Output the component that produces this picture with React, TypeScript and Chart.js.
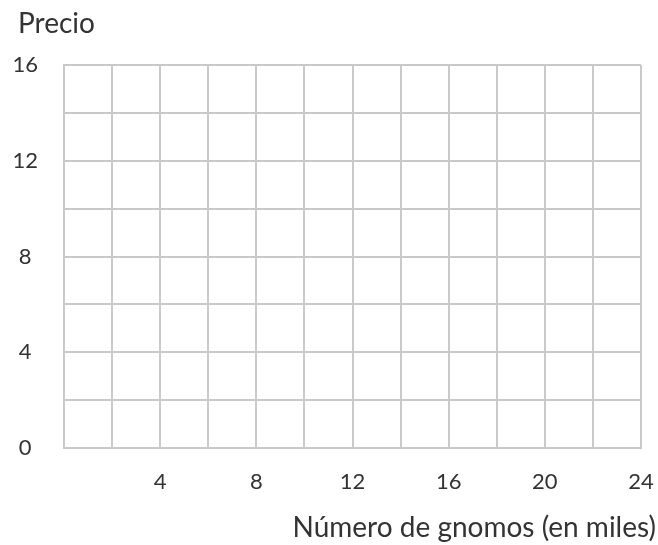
import { useEffect, useRef } from "react";
import { Chart, registerables } from "chart.js";

Chart.register(...registerables);

// Axis ranges and tick labels
const xRange = [0, 24];
const yRange = [0, 16];
const gridStep = 2;
const xLabelValues = [4, 8, 12, 16, 20, 24];
const yLabelValues = [0, 4, 8, 12, 16];
const yTitle = "Precio";
const xTitle = "Número de gnomos (en miles)";
// The reference grid is empty: no plotted points
const points: { x: number; y: number }[] = [];

const TEXT = "#333333";
const GRID = "#c9c9c9";
const FONT = "Lato";

// lets the centred y tick labels extend to the canvas' left edge
const unclipYLabels = {
  id: "unclipYLabels",
  afterLayout(chart: any) {
    if (chart.scales.y) chart.scales.y.left = 0;
  },
};

export default function App() {
  const ref = useRef<HTMLCanvasElement | null>(null);

  useEffect(() => {
    if (!ref.current) return;
    const chart = new Chart(ref.current, {
      type: "scatter",
      data: { datasets: [{ data: points, showLine: false, pointRadius: 0 }] },
      plugins: [unclipYLabels],
      options: {
        responsive: false,
        animation: false,
        layout: { padding: { left: 18, right: 2, top: 0, bottom: 0 } },
        plugins: {
          legend: { display: false },
          tooltip: { enabled: false },
          title: {
            display: true,
            text: yTitle,
            align: "start",
            position: "top",
            color: TEXT,
            font: { family: FONT, size: 28, weight: "normal", lineHeight: 1.2 },
            padding: { top: 6.7, bottom: 24.7 },
          },
          subtitle: {
            display: true,
            text: xTitle,
            align: "end",
            position: "bottom",
            color: TEXT,
            font: { family: FONT, size: 28, weight: "normal", lineHeight: 1.2 },
            padding: { top: 17.4, bottom: 0 },
          },
        },
        scales: {
          x: {
            type: "linear",
            min: xRange[0],
            max: xRange[1],
            ticks: {
              stepSize: gridStep,
              autoSkip: false,
              maxRotation: 0,
              padding: 20.8,
              color: TEXT,
              font: { family: FONT, size: 22, lineHeight: 1.2 },
              callback: (v: any) => (xLabelValues.includes(Number(v)) ? String(v) : ""),
            },
            grid: { color: GRID, lineWidth: 2, drawTicks: false },
            border: { color: GRID, width: 2 },
            afterFit: (s: any) => {
              s.height = 46;
              s.paddingRight = 17;
              s.paddingLeft = 0;
            },
          },
          y: {
            type: "linear",
            min: yRange[0],
            max: yRange[1],
            ticks: {
              stepSize: gridStep,
              autoSkip: false,
              crossAlign: "center",
              padding: 26,
              color: TEXT,
              font: { family: FONT, size: 22, lineHeight: 1.2 },
              callback: (v: any) => (yLabelValues.includes(Number(v)) ? String(v) : ""),
            },
            grid: { color: GRID, lineWidth: 2, drawTicks: false },
            border: { color: GRID, width: 2 },
            afterFit: (s: any) => {
              s.width = 46;
            },
          },
        },
      },
    } as any);
    return () => chart.destroy();
  }, []);

  return (
    <div style={{ position: "absolute", left: 0, top: 0, width: 658, height: 545, background: "#fff" }}>
      <canvas ref={ref} width={658} height={545} />
    </div>
  );
}
